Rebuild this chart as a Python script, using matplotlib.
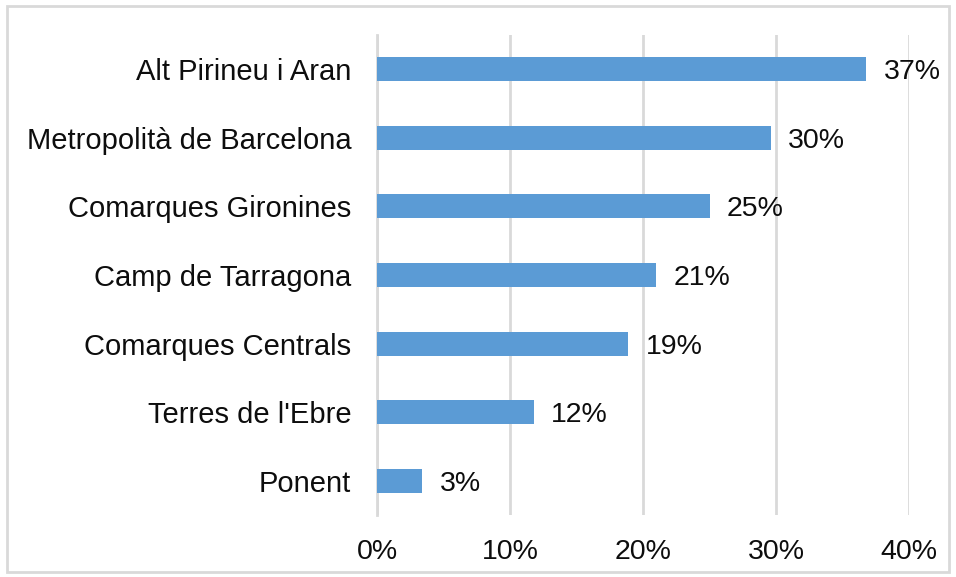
import matplotlib
matplotlib.use("Agg")
import matplotlib.pyplot as plt
from matplotlib.patches import Rectangle

categories = ["Alt Pirineu i Aran", "Metropolità de Barcelona", "Comarques Gironines",
              "Camp de Tarragona", "Comarques Centrals", "Terres de l'Ebre", "Ponent"]
values = [36.8, 29.6, 25.0, 21.0, 18.9, 11.8, 3.4]
labels = ["37%", "30%", "25%", "21%", "19%", "12%", "3%"]
xticks = [0, 10, 20, 30, 40]
xticklabels = ["0%", "10%", "20%", "30%", "40%"]

plt.rcParams['font.family'] = ['Liberation Sans', 'DejaVu Sans']

fig = plt.figure(figsize=(9.56, 5.77), dpi=100)
W, H = 956, 577
ax = fig.add_axes([377 / W, 1 - 515 / H, (909 - 377) / W, (515 - 35) / H])

y = list(range(len(categories)))[::-1]
ax.barh(y, values, height=0.35, color="#5b9bd5", zorder=3)
for yi, v, lab in zip(y, values, labels):
    ax.text(v + 1.3, yi, lab, va="center_baseline", ha="left", fontsize=20.5, color="#0d0d0d")

ax.set_xlim(0, 40)
ax.set_ylim(-0.5, len(categories) - 0.5)
ax.set_yticks(y)
ax.set_yticklabels(categories, fontsize=21, color="#0d0d0d")
ax.set_xticks(xticks)
ax.set_xticklabels(xticklabels, fontsize=20.5, color="#0d0d0d")
ax.tick_params(length=0)
ax.tick_params(axis="x", pad=17)
ax.tick_params(axis="y", pad=18.5)
ax.grid(axis="x", color="#d9d9d9", linewidth=2, zorder=0)
for s in ["top", "right", "bottom"]:
    ax.spines[s].set_visible(False)
ax.spines["left"].set_color("#d9d9d9")
ax.spines["left"].set_linewidth(2)

fig.patches.append(Rectangle((7 / W, 1 - 572 / H), (949 - 7) / W, (572 - 6) / H,
                             transform=fig.transFigure, fill=False,
                             edgecolor="#d9d9d9", linewidth=2))

fig.savefig("out.png", dpi=100)
